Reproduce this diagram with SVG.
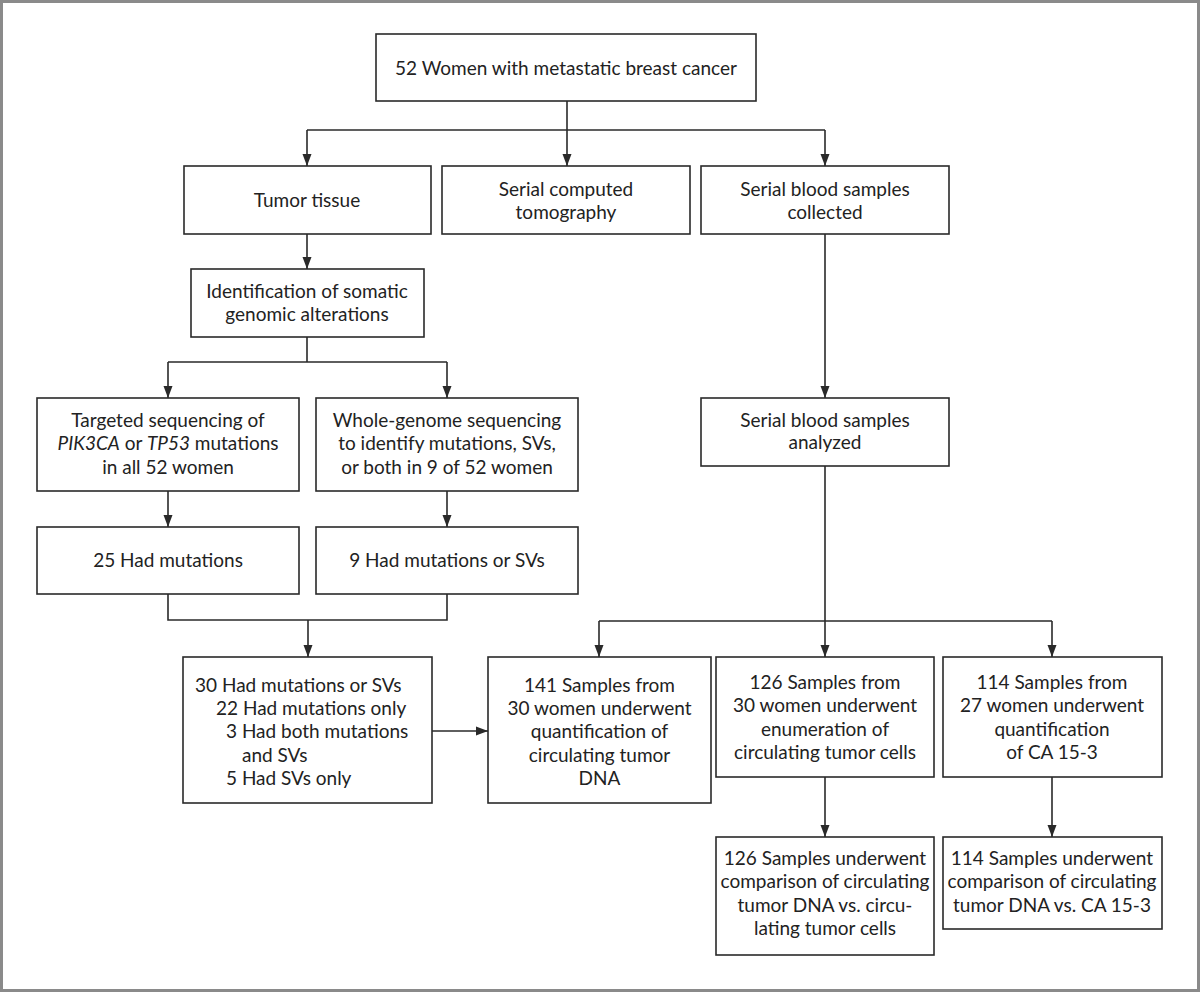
<svg xmlns="http://www.w3.org/2000/svg" width="1200" height="992" viewBox="0 0 1200 992">
<defs>
<style>
.box{fill:#fff;stroke:#2a2a2a;stroke-width:1.6}
.t{font-family:Lato,"Liberation Sans",sans-serif;font-size:19px;fill:#222;text-anchor:middle}
.l{text-anchor:start}
.c{fill:none;stroke:#2a2a2a;stroke-width:1.6}
.i{font-style:italic}
</style>
<marker id="ah" markerUnits="userSpaceOnUse" markerWidth="12" markerHeight="14" refX="12" refY="7" orient="auto">
<path d="M0,2.5 L12,7 L0,11.5 Z" fill="#2a2a2a"/>
</marker>
</defs>
<rect x="1.5" y="1.5" width="1197" height="989" fill="#fff" stroke="#8a8a8a" stroke-width="3"/>

<g id="connectors">
<path class="c" d="M567,101 V166" marker-end="url(#ah)"/>
<path class="c" d="M307,130 H825"/>
<path class="c" d="M307,130 V166" marker-end="url(#ah)"/>
<path class="c" d="M825,130 V166" marker-end="url(#ah)"/>
<path class="c" d="M307,234 V269" marker-end="url(#ah)"/>
<path class="c" d="M307,337 V362 M168,362 H447"/>
<path class="c" d="M168,362 V398" marker-end="url(#ah)"/>
<path class="c" d="M447,362 V398" marker-end="url(#ah)"/>
<path class="c" d="M168,491 V527" marker-end="url(#ah)"/>
<path class="c" d="M447,491 V527" marker-end="url(#ah)"/>
<path class="c" d="M168,594 V620 H447 V594"/>
<path class="c" d="M308,620 V657" marker-end="url(#ah)"/>
<path class="c" d="M432,731 H488" marker-end="url(#ah)"/>
<path class="c" d="M825,234 V398" marker-end="url(#ah)"/>
<path class="c" d="M825,466 V621 M599,621 H1052"/>
<path class="c" d="M599,621 V657" marker-end="url(#ah)"/>
<path class="c" d="M825,621 V657" marker-end="url(#ah)"/>
<path class="c" d="M1052,621 V657" marker-end="url(#ah)"/>
<path class="c" d="M825,777 V837" marker-end="url(#ah)"/>
<path class="c" d="M1052,777 V837" marker-end="url(#ah)"/>
</g>

<g id="n-women">
<rect class="box" x="376" y="34" width="380" height="67"/>
<text class="t" x="566" y="75">52 Women with metastatic breast cancer</text>
</g>
<g id="n-tumor">
<rect class="box" x="184" y="166" width="247" height="68"/>
<text class="t" x="307" y="207">Tumor tissue</text>
</g>
<g id="n-ct">
<rect class="box" x="442" y="166" width="248" height="68"/>
<text class="t" x="566" y="196">Serial computed</text>
<text class="t" x="566" y="219">tomography</text>
</g>
<g id="n-blood">
<rect class="box" x="701" y="166" width="248" height="68"/>
<text class="t" x="825" y="196">Serial blood samples</text>
<text class="t" x="825" y="219">collected</text>
</g>
<g id="n-ident">
<rect class="box" x="191" y="269" width="233" height="68"/>
<text class="t" x="307" y="298">Identification of somatic</text>
<text class="t" x="307" y="321">genomic alterations</text>
</g>
<g id="n-targeted">
<rect class="box" x="37" y="398" width="262" height="93"/>
<text class="t" x="168" y="427">Targeted sequencing of</text>
<text class="t" x="168" y="450"><tspan class="i">PIK3CA</tspan> or <tspan class="i">TP53</tspan> mutations</text>
<text class="t" x="168" y="474">in all 52 women</text>
</g>
<g id="n-wgs">
<rect class="box" x="316" y="398" width="262" height="93"/>
<text class="t" x="447" y="427">Whole-genome sequencing</text>
<text class="t" x="447" y="450">to identify mutations, SVs,</text>
<text class="t" x="447" y="474">or both in 9 of 52 women</text>
</g>
<g id="n-25">
<rect class="box" x="37" y="527" width="262" height="67"/>
<text class="t" x="168" y="567">25 Had mutations</text>
</g>
<g id="n-9">
<rect class="box" x="316" y="527" width="262" height="67"/>
<text class="t" x="447" y="567">9 Had mutations or SVs</text>
</g>
<g id="n-analyzed">
<rect class="box" x="701" y="398" width="248" height="68"/>
<text class="t" x="825" y="427">Serial blood samples</text>
<text class="t" x="825" y="449">analyzed</text>
</g>
<g id="n-30">
<rect class="box" x="183" y="657" width="249" height="146"/>
<text class="t l" x="195" y="692">30 Had mutations or SVs</text>
<text class="t l" x="216" y="715">22 Had mutations only</text>
<text class="t l" x="226" y="738">3 Had both mutations</text>
<text class="t l" x="242" y="762">and SVs</text>
<text class="t l" x="226" y="785">5 Had SVs only</text>
</g>
<g id="n-141">
<rect class="box" x="488" y="657" width="223" height="146"/>
<text class="t" x="599.5" y="692">141 Samples from</text>
<text class="t" x="599.5" y="715">30 women underwent</text>
<text class="t" x="599.5" y="738">quantification of</text>
<text class="t" x="599.5" y="762">circulating tumor</text>
<text class="t" x="599.5" y="785">DNA</text>
</g>
<g id="n-126">
<rect class="box" x="716" y="657" width="218" height="120"/>
<text class="t" x="825" y="689">126 Samples from</text>
<text class="t" x="825" y="712">30 women underwent</text>
<text class="t" x="825" y="736">enumeration of</text>
<text class="t" x="825" y="759">circulating tumor cells</text>
</g>
<g id="n-114">
<rect class="box" x="943" y="657" width="219" height="120"/>
<text class="t" x="1052" y="689">114 Samples from</text>
<text class="t" x="1052" y="712">27 women underwent</text>
<text class="t" x="1052" y="736">quantification</text>
<text class="t" x="1052" y="759">of CA 15-3</text>
</g>
<g id="n-126c">
<rect class="box" x="716" y="837" width="218" height="118"/>
<text class="t" x="825" y="865">126 Samples underwent</text>
<text class="t" x="825" y="888">comparison of circulating</text>
<text class="t" x="825" y="912">tumor DNA vs. circu-</text>
<text class="t" x="825" y="935">lating tumor cells</text>
</g>
<g id="n-114c">
<rect class="box" x="943" y="837" width="219" height="92"/>
<text class="t" x="1052" y="865">114 Samples underwent</text>
<text class="t" x="1052" y="888">comparison of circulating</text>
<text class="t" x="1052" y="912">tumor DNA vs. CA 15-3</text>
</g>
</svg>
